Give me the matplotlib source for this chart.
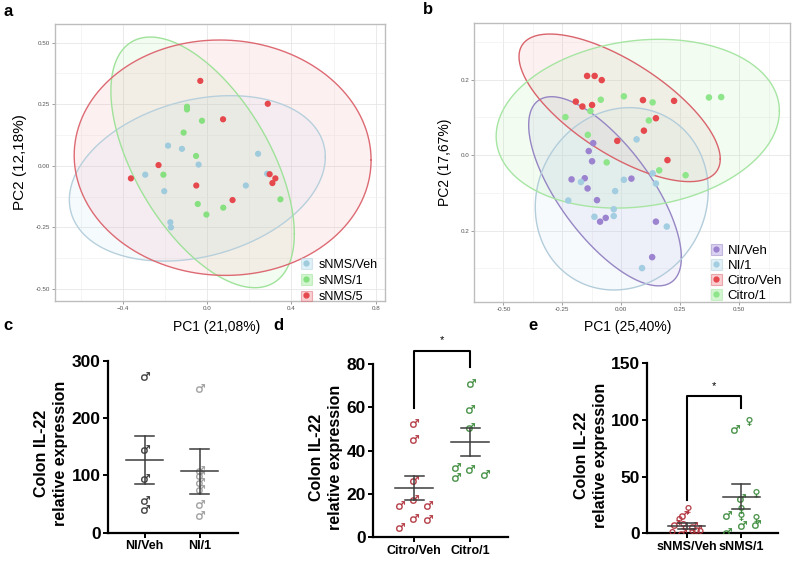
import numpy as np
import matplotlib.pyplot as plt
from matplotlib.patches import Patch
from matplotlib.lines import Line2D

plt.rcParams['font.family'] = ['Liberation Sans', 'DejaVu Sans']

# ---------------- panel a : PCA, sNMS groups ----------------
a_groups = ['sNMS/Veh', 'sNMS/1', 'sNMS/5']
a_veh_x = [-0.185, -0.119, -0.040, -0.293, -0.203, -0.174, -0.171, 0.242, 0.184, 0.285]
a_veh_y = [0.082, 0.069, 0.005, -0.036, -0.103, -0.229, -0.250, 0.049, -0.080, -0.032]
a_one_x = [-0.095, -0.095, -0.024, -0.111, -0.052, -0.207, -0.044, -0.003, 0.077, 0.348]
a_one_y = [0.240, 0.229, 0.183, 0.135, 0.040, -0.036, -0.155, -0.198, -0.170, -0.136]
a_five_x = [-0.032, 0.288, 0.076, -0.230, -0.361, -0.051, 0.121, 0.297, 0.324, 0.310]
a_five_y = [0.345, 0.252, 0.189, 0.003, -0.051, -0.080, -0.139, -0.034, -0.051, -0.070]
# ellipse: centre, half extents, cos of phase (tilt)
a_ell_cx = [-0.046, -0.021, 0.074]
a_ell_cy = [-0.051, 0.014, 0.033]
a_ell_rx = [0.607, 0.435, 0.704]
a_ell_ry = [0.336, 0.509, 0.478]
a_ell_tilt = [0.259, -0.57, -0.02]

# ---------------- panel b : PCA, NI / Citro groups ----------------
b_groups = ['NI/Veh', 'NI/1', 'Citro/Veh', 'Citro/1']
b_niveh_x = [-0.119, -0.138, -0.124, -0.211, -0.155, -0.143, -0.103, 0.043, -0.090, -0.066, 0.147, 0.131]
b_niveh_y = [0.032, 0.011, -0.016, -0.064, -0.061, -0.088, -0.119, -0.062, -0.176, -0.166, -0.176, -0.270]
b_ni1_x = [0.065, -0.171, -0.225, 0.011, -0.026, 0.133, 0.147, -0.032, -0.032, -0.114, 0.193, 0.088]
b_ni1_y = [0.042, -0.071, -0.120, -0.065, -0.095, -0.048, -0.075, -0.143, -0.161, -0.163, -0.189, -0.299]
b_citveh_x = [-0.145, -0.113, -0.083, -0.193, -0.165, -0.124, 0.092, 0.224, 0.147, 0.096, -0.017, 0.196]
b_citveh_y = [0.210, 0.210, 0.199, 0.142, 0.129, 0.133, 0.146, 0.144, 0.098, 0.065, 0.038, -0.013]
b_cit1_x = [-0.087, 0.011, 0.133, 0.372, 0.424, -0.237, -0.131, 0.117, -0.142, -0.062, 0.161, 0.273]
b_cit1_y = [0.147, 0.156, 0.140, 0.153, 0.154, 0.101, 0.117, 0.092, 0.054, -0.019, -0.040, -0.053]
b_ell_cx = [-0.069, 0.002, -0.007, 0.070]
b_ell_cy = [-0.0955, -0.1155, 0.1255, 0.0835]
b_ell_rx = [0.324, 0.367, 0.427, 0.601]
b_ell_ry = [0.2505, 0.2415, 0.1955, 0.2235]
b_ell_tilt = [-0.70, 0.09, -0.693, 0.15]

# ---------------- panel c ----------------
c_groups = ['NI/Veh', 'NI/1']
c_veh = [273, 146, 95, 58, 41]
c_veh_off = [0, 0, 0, 0, 0]
c_veh_sex = ['m', 'm', 'm', 'm', 'm']
c_one = [252, 110, 101, 89, 76, 50, 31]
c_one_off = [0, 0, 0, 0, 0, 0, 0]
c_one_sex = ['m', 'm', 'm', 'm', 'm', 'm', 'm']
c_mean = [127, 107]
c_low = [85, 68]
c_high = [169, 146]

# ---------------- panel d ----------------
d_groups = ['Citro/Veh', 'Citro/1']
d_veh = [52.9, 45.3, 26.5, 17.6, 14.9, 14.7, 8.8, 8.6, 4.9]
d_veh_off = [0, 0, 0, 0, -0.26, 0.25, 0, 0.25, -0.26]
d_veh_sex = ['m'] * 9
d_one = [71.1, 59.1, 51.1, 32.6, 28.0, 31.4, 29.2]
d_one_off = [0.02, 0, 0, -0.25, -0.25, 0, 0.26]
d_one_sex = ['m'] * 7
d_mean = [22.6, 44.2]
d_low = [17.2, 37.7]
d_high = [28.3, 50.6]
d_bracket = [59.6, 86.1, 78.8]

# ---------------- panel e ----------------
e_groups = ['sNMS/Veh', 'sNMS/1']
e_veh = [21.2, 16.2, 11.7, 8.2, 7.3, 6.4, 4.0, 1.5, 1.5, 0.6, 0.0]
e_veh_off = [0.03, -0.06, -0.15, -0.21, -0.06, 0.12, 0.18, 0.09, 0.25, -0.09, -0.28]
e_veh_sex = ['f', 'm', 'f', 'm', 'f', 'm', 'm', 'f', 'f', 'm', 'f']
e_one = [91.8, 99.4, 35.8, 30.9, 21.2, 16.2, 15.0, 13.2, 8.2, 7.3, 1.4]
e_one_off = [-0.12, 0.14, 0.28, 0, 0, -0.25, 0, 0.28, 0.28, 0.01, -0.25]
e_one_sex = ['m', 'f', 'f', 'm', 'f', 'm', 'f', 'f', 'm', 'm', 'm']
e_mean = [6.5, 32.3]
e_low = [3.5, 21.2]
e_high = [9.4, 43.2]
e_bracket = [29.4, 121.2, 110.3]

fig = plt.figure(figsize=(8, 5.61), dpi=100)


def pca_style(ax, xmaj, xmin, ymaj, ymin, ylabels):
    ax.set_facecolor('white')
    ax.set_xticks(xmaj)
    ax.set_xticks(xmin, minor=True)
    ax.set_yticks(ymaj)
    ax.set_yticks(ymin, minor=True)
    ax.set_yticklabels(ylabels)
    ax.grid(which='major', color='#e6e6e6', lw=0.6)
    ax.grid(which='minor', color='#f2f2f2', lw=0.5)
    ax.set_axisbelow(True)
    ax.tick_params(which='major', labelsize=4.5, labelcolor='#555555', color='#777777',
                   length=2, width=0.5, pad=1.5)
    ax.tick_params(which='minor', length=0)
    for s in ax.spines.values():
        s.set_color('#bdbdbd')
        s.set_linewidth(1.0)


def draw_ellipse(ax, cx, cy, rx, ry, tilt, edge, face):
    t = np.linspace(0, 2 * np.pi, 300)
    d = np.arccos(tilt)
    ex = cx + rx * np.cos(t)
    ey = cy + ry * np.cos(t - d)
    ax.fill(ex, ey, facecolor=face, alpha=0.15, edgecolor='none')
    ax.plot(ex, ey, color=edge, lw=1.0)


# ---------- a ----------
ax_a = fig.add_axes([55 / 800, 1 - 301 / 561, 330 / 800, 277 / 561])
a_pts = [(a_veh_x, a_veh_y), (a_one_x, a_one_y), (a_five_x, a_five_y)]
a_col = ['#9fcbdc', '#86e07f', '#e5484d']
a_edge = ['#b7d0dc', '#9fe29a', '#dd6a73']
a_face = ['#bfe3f2', '#a8eea4', '#f4a0a6']
for i in range(3):
    draw_ellipse(ax_a, a_ell_cx[i], a_ell_cy[i], a_ell_rx[i], a_ell_ry[i],
                 a_ell_tilt[i], a_edge[i], a_face[i])
for i in range(3):
    ax_a.scatter(a_pts[i][0], a_pts[i][1], s=20, color=a_col[i], edgecolors='none', zorder=3)
ax_a.set_xlim(-0.721, 0.844)
ax_a.set_ylim(-0.549, 0.576)
pca_style(ax_a, [-0.4, 0.0, 0.4, 0.8], [-0.6, -0.2, 0.2, 0.6],
          [-0.5, -0.25, 0, 0.25, 0.5], [-0.375, -0.125, 0.125, 0.375],
          ['-0.50', '-0.25', '0.00', '0.25', '0.50'])
h_a = [(Patch(facecolor=a_face[i], alpha=0.5, edgecolor=a_edge[i], lw=0.8),
        Line2D([], [], marker='o', ls='', color=a_col[i], markersize=3.5)) for i in range(3)]
ax_a.legend(h_a, a_groups, loc='lower right', bbox_to_anchor=(1.0, -0.035), fontsize=9,
            frameon=False, handlelength=0.9, handleheight=0.9, handletextpad=0.5,
            labelspacing=0.3, borderaxespad=0.2)
ax_a.set_ylabel('PC2 (12,18%)', fontsize=11, labelpad=6)

# ---------- b ----------
ax_b = fig.add_axes([474 / 800, 1 - 301.7 / 561, 316 / 800, 279 / 561])
b_pts = [(b_niveh_x, b_niveh_y), (b_ni1_x, b_ni1_y), (b_citveh_x, b_citveh_y), (b_cit1_x, b_cit1_y)]
b_col = ['#9c83cf', '#a3cde0', '#e5484d', '#8ee58a']
b_edge = ['#9686c4', '#b3cddb', '#d9646c', '#a7e5a3']
b_face = ['#b9a8e6', '#c6e2f0', '#f4a0a6', '#a8eea4']
for i in range(4):
    draw_ellipse(ax_b, b_ell_cx[i], b_ell_cy[i], b_ell_rx[i], b_ell_ry[i],
                 b_ell_tilt[i], b_edge[i], b_face[i])
for i in range(4):
    ax_b.scatter(b_pts[i][0], b_pts[i][1], s=22, color=b_col[i], edgecolors='none', zorder=3)
ax_b.set_xlim(-0.590, 0.716)
ax_b.set_ylim(-0.388, 0.351)
pca_style(ax_b, [-0.5, -0.25, 0, 0.25, 0.5], [-0.625, -0.375, -0.125, 0.125, 0.375, 0.625],
          [-0.2, 0, 0.2], [-0.3, -0.1, 0.1, 0.3], ['0.2', '0.0', '0.2'])
ax_b.set_xticklabels(['-0.50', '-0.25', '0.00', '0.25', '0.50'])
h_b = [(Patch(facecolor=b_face[i], alpha=0.5, edgecolor=b_edge[i], lw=0.8),
        Line2D([], [], marker='o', ls='', color=b_col[i], markersize=3.5)) for i in range(4)]
ax_b.legend(h_b, b_groups, loc='lower right', bbox_to_anchor=(1.0, -0.03), fontsize=9.5,
            frameon=False, handlelength=0.9, handleheight=0.9, handletextpad=0.4,
            labelspacing=0.15, borderaxespad=0.2)
ax_b.set_ylabel('PC2 (17,67%)', fontsize=10, labelpad=6)

fig.text(217 / 800, 1 - 327 / 561, 'PC1 (21,08%)', fontsize=10, ha='center', va='center')
fig.text(628 / 800, 1 - 327 / 561, 'PC1 (25,40%)', fontsize=10, ha='center', va='center')


# ---------- dot plots ----------
def dot_panel(ax, groups, vals, offs, sexes, colors, mean, low, high, ylim, yticks, label_x):
    for g in range(2):
        for v, o, sx in zip(vals[g], offs[g], sexes[g]):
            mk = '$\u2642$' if sx == 'm' else '$\u2640$'
            ax.scatter(g + o, v, marker=mk, s=40, color=colors[g], linewidths=0.2, zorder=3)
        ax.plot([g - 0.34, g + 0.34], [mean[g], mean[g]], color='#3c3c3c', lw=1.1, zorder=4)
        ax.plot([g, g], [low[g], high[g]], color='#3c3c3c', lw=1.1, zorder=4)
        for yy in (low[g], high[g]):
            ax.plot([g - 0.17, g + 0.17], [yy, yy], color='#3c3c3c', lw=1.1, zorder=4)
    ax.set_ylim(*ylim)
    ax.set_yticks(yticks)
    ax.set_xticks([0, 1])
    ax.set_xticklabels(groups, fontsize=9, fontweight='bold')
    for lab in ax.get_yticklabels():
        lab.set_fontweight('bold')
        lab.set_fontsize(12.5)
    ax.spines['top'].set_visible(False)
    ax.spines['right'].set_visible(False)
    for s in ('left', 'bottom'):
        ax.spines[s].set_linewidth(1.6)
    ax.tick_params(length=3.5, width=1.4, pad=2)
    ax.set_ylabel('Colon IL-22\nrelative expression', fontsize=11.5, fontweight='bold',
                  linespacing=1.35)
    ax.yaxis.set_label_coords(label_x, 0.46)


ax_c = fig.add_axes([108.3 / 800, 1 - 532.7 / 561, 129.7 / 800, 171.7 / 561])
dot_panel(ax_c, c_groups, [c_veh, c_one], [c_veh_off, c_one_off], [c_veh_sex, c_one_sex],
          ['#333333', '#9a9a9a'], c_mean, c_low, c_high, (0, 300), [0, 100, 200, 300], -0.31)
ax_c.set_xlim(-0.66, 1.70)

ax_d = fig.add_axes([373.3 / 800, 1 - 537.3 / 561, 134.7 / 800, 173.3 / 561])
dot_panel(ax_d, d_groups, [d_veh, d_one], [d_veh_off, d_one_off], [d_veh_sex, d_one_sex],
          ['#b0303a', '#3a8a3a'], d_mean, d_low, d_high, (0, 80), [0, 20, 40, 60, 80], -0.225)
ax_d.set_xlim(-0.736, 1.68)
ax_d.plot([0, 0, 1, 1], d_bracket[:2] + d_bracket[1:], color='black', lw=1.5, clip_on=False)
ax_d.text(0.5, d_bracket[1] + 2.5, '*', ha='center', va='bottom', fontsize=8)

ax_e = fig.add_axes([647.3 / 800, 1 - 533.3 / 561, 130.7 / 800, 170 / 561])
dot_panel(ax_e, e_groups, [e_veh, e_one], [e_veh_off, e_one_off], [e_veh_sex, e_one_sex],
          ['#b0303a', '#3a8a3a'], e_mean, e_low, e_high, (0, 150), [0, 50, 100, 150], -0.30)
ax_e.set_xlim(-0.726, 1.68)
ax_e.plot([0, 0, 1, 1], e_bracket[:2] + e_bracket[1:], color='black', lw=1.5, clip_on=False)
ax_e.text(0.5, e_bracket[1] + 4, '*', ha='center', va='bottom', fontsize=8)

for lab, x, y in [('a', 8, 12), ('b', 428, 10), ('c', 8, 325), ('d', 278, 325), ('e', 533, 325)]:
    fig.text(x / 800, 1 - y / 561, lab, fontsize=12, fontweight='bold', ha='center', va='center')

fig.savefig('out.png', dpi=100)
